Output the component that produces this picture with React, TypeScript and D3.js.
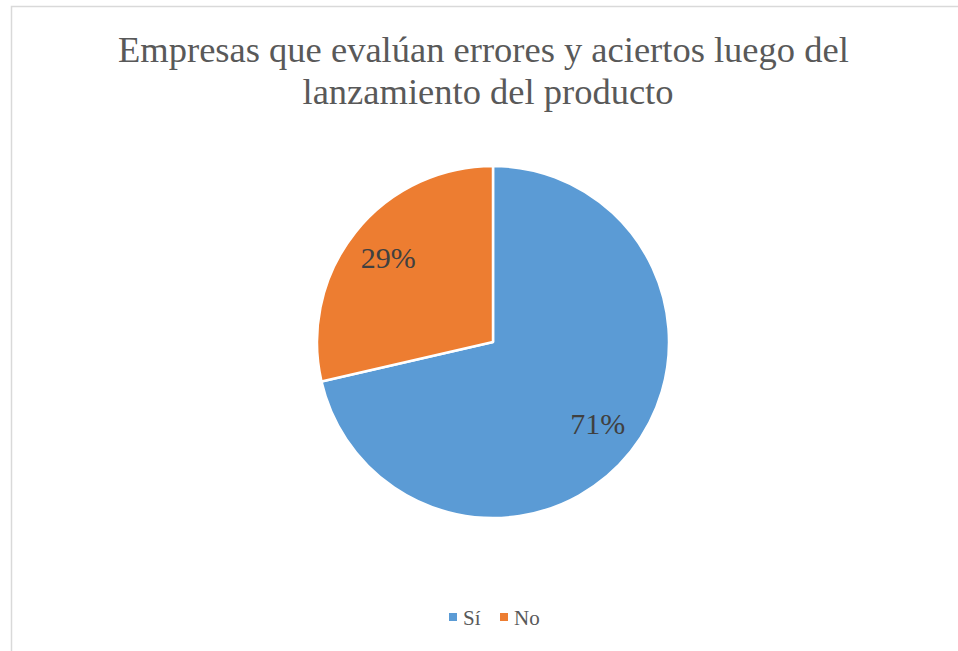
import React from "react";
import * as d3 from "d3";

const categories = ["Sí", "No"];
const values = [71.4, 28.6];
const colors = ["#5B9BD5", "#ED7D31"];
const titleLines = ["Empresas que evalúan errores y aciertos luego del ", "lanzamiento del producto"];

const W = 958;
const H = 651;
const FONT = "Liberation Serif, Times New Roman, serif";

export default function App() {
  const cx = 493;
  const cy = 342;
  const r = 176;
  const total = d3.sum(values);
  const pie = d3.pie<number>().sort(null).value((d) => d)(values);
  const arc = d3.arc<d3.PieArcDatum<number>>().innerRadius(0).outerRadius(r);
  const labelArc = d3.arc<d3.PieArcDatum<number>>().innerRadius(r * 0.76).outerRadius(r * 0.76);
  const fmt = d3.format(".0%");

  const legendItems = categories.map((c, i) => ({ c, i }));
  const legendX = [449, 500];

  return (
    <svg width={W} height={H} style={{ position: "absolute", left: 0, top: 0, display: "block", fontFamily: FONT }}>
      <rect x={0} y={0} width={W} height={H} fill="#ffffff" />
      <rect x={11.5} y={6.5} width={W + 10} height={H + 10} fill="#ffffff" stroke="#d9d9d9" strokeWidth={1.5} />
      {titleLines.map((t, i) => (
        <text key={i} x={488} y={62 + i * 42} style={{ fontFamily: FONT, whiteSpace: "pre" }} fill="#595959" fontSize={36.5} textAnchor="middle">{t}</text>
      ))}
      <g transform={`translate(${cx},${cy})`}>
        {pie.map((p, i) => (
          <path key={i} d={arc(p) || ""} fill={colors[i]} stroke="#ffffff" strokeWidth={2.5} strokeLinejoin="round" />
        ))}
        {pie.map((p, i) => {
          const [lx, ly] = labelArc.centroid(p);
          return (
            <text key={"l" + i} x={lx} y={ly} dy="0.3em" textAnchor="middle" style={{ fontFamily: FONT }} fontSize={30} fill="#404040">
              {fmt(p.data / total)}
            </text>
          );
        })}
      </g>
      {legendItems.map(({ c, i }) => (
        <g key={c}>
          <rect x={legendX[i]} y={613} width={8} height={8} fill={colors[i]} />
          <text x={legendX[i] + 14} y={625} style={{ fontFamily: FONT }} fontSize={21} fill="#595959">{c}</text>
        </g>
      ))}
    </svg>
  );
}
